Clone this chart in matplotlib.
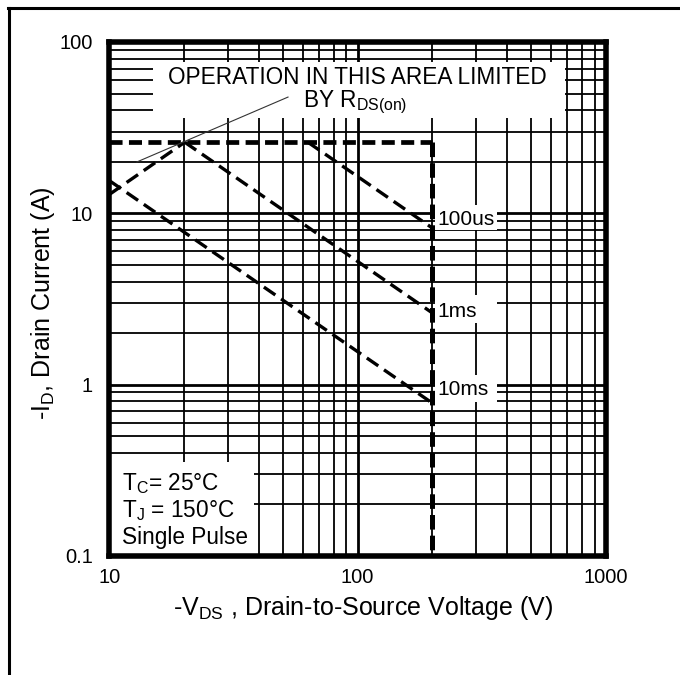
import matplotlib
matplotlib.use("Agg")
import matplotlib.pyplot as plt
from matplotlib.patches import Rectangle
from matplotlib.lines import Line2D
from matplotlib.ticker import LogLocator, NullFormatter, FixedLocator, FixedFormatter

plt.rcParams['font.family'] = ['Liberation Sans', 'DejaVu Sans']
plt.rcParams['mathtext.fontset'] = 'custom'
plt.rcParams['mathtext.rm'] = 'Liberation Sans'
plt.rcParams['mathtext.it'] = 'Liberation Sans:italic'
plt.rcParams['mathtext.bf'] = 'Liberation Sans:bold'
plt.rcParams['lines.scale_dashes'] = False

# ---- safe operating area boundaries (V, A) ----
v_rds = [10, 20.1]
i_rds = [12.9, 26]
v_limit = [10, 200]
i_limit = [26, 26]
v_bvdss = [200, 200]
i_bvdss = [26, 0.1]
v_100us = [63, 200]
i_100us = [26, 8.2]
v_1ms = [20.1, 200]
i_1ms = [26, 2.62]
v_10ms = [10, 200]
i_10ms = [15.5, 0.78]

x_ticks = [10, 100, 1000]
x_ticklabels = ["10", "100", "1000"]
y_ticks = [0.1, 1, 10, 100]
y_ticklabels = ["0.1", "1", "10", "100"]

fig = plt.figure(figsize=(6.8, 6.75), dpi=100)
ax = fig.add_axes([0.161, 0.1763, 0.730, 0.7615])
ax.set_xscale('log')
ax.set_yscale('log')
ax.set_xlim(10, 1000)
ax.set_ylim(0.1, 100)

ax.xaxis.set_major_locator(FixedLocator(x_ticks))
ax.xaxis.set_major_formatter(FixedFormatter(x_ticklabels))
ax.yaxis.set_major_locator(FixedLocator(y_ticks))
ax.yaxis.set_major_formatter(FixedFormatter(y_ticklabels))
ax.xaxis.set_minor_locator(LogLocator(base=10, subs=range(2, 10)))
ax.yaxis.set_minor_locator(LogLocator(base=10, subs=range(2, 10)))
ax.xaxis.set_minor_formatter(NullFormatter())
ax.yaxis.set_minor_formatter(NullFormatter())
ax.tick_params(which='both', length=0)
ax.tick_params(axis='x', which='major', pad=9, labelsize=14.5)
ax.tick_params(axis='y', which='major', pad=12, labelsize=14.5)

ax.set_axisbelow(True)
ax.grid(which='major', color='black', lw=2.0)
ax.grid(which='minor', color='black', lw=1.3)
for s in ax.spines.values():
    s.set_linewidth(4.0)

# white panels behind the annotations
panels = [
    ((15, 36.0), 683 - 15, 76.5 - 36.0),
    ((10, 0.1), 38.2 - 10, 0.354 - 0.1),
    ((204.7, 8.0), 364 - 204.7, 11.2 - 8.0),
    ((204.7, 2.29), 364 - 204.7, 3.34 - 2.29),
    ((204.7, 0.79), 364 - 204.7, 1.14 - 0.79),
]
for (xy, w, h) in panels:
    ax.add_patch(Rectangle(xy, w, h, facecolor='white', edgecolor='none', zorder=1))

# boundary curves
thin = dict(color='black', lw=2.4, dash_capstyle='butt', zorder=3)
ax.plot(v_rds, i_rds, dashes=(10, 5.0), **thin)
ax.plot(v_100us, i_100us, dashes=(10, 5.0), **thin)
ax.plot(v_1ms, i_1ms, dashes=(10, 5.0), **thin)
ax.plot(v_10ms, i_10ms, dashes=(10, 5.0), **thin)
ax.plot(v_limit, i_limit, color='black', lw=3.4, dashes=(9.4, 4.6),
        dash_capstyle='butt', zorder=3)
ax.plot(v_bvdss, i_bvdss, color='black', lw=3.6, dashes=(10.5, 4.4),
        dash_capstyle='butt', zorder=3)

# leader from the R_DS(on) note to its line
ax.plot([52.4, 12.9], [47.7, 19.95], color='#333333', lw=0.8, zorder=3)

txt = dict(fontsize=16.3, color='black', zorder=4)
ax.text(100, 57.2, "OPERATION IN THIS AREA LIMITED", ha='center', va='baseline', **txt)
ax.text(60.2, 41.8, r"BY R$_\mathrm{DS(on)}$", ha='left', va='baseline', **txt)

ax.text(11.23, 0.243, r"T$_\mathrm{C}$= 25°C", ha='left', va='baseline', **txt)
ax.text(11.23, 0.169, r"T$_\mathrm{J}$ = 150°C", ha='left', va='baseline', **txt)
ax.text(11.23, 0.1175, "Single Pulse", ha='left', va='baseline', **txt)

lab = dict(fontsize=15, color='black', zorder=4, ha='left', va='baseline')
ax.text(208.5, 8.55, "100us", **lab)
ax.text(208.5, 2.48, "1ms", **lab)
ax.text(208.5, 0.87, "10ms", **lab)

fig.text(363 / 680, 1 - 608 / 675, r"-V$_\mathrm{DS}$ , Drain-to-Source Voltage (V)",
         ha='center', va='center', fontsize=18)
fig.text(43 / 680, 1 - 303 / 675, r"-I$_\mathrm{D}$, Drain Current (A)",
         ha='center', va='center', rotation=90, fontsize=18)

# page frame
fig.add_artist(Line2D([9 / 680, 9 / 680], [0, 1 - 7.5 / 675],
                      transform=fig.transFigure, color='black', lw=2.2))
fig.add_artist(Line2D([8 / 680, 1], [1 - 7.5 / 675, 1 - 7.5 / 675],
                      transform=fig.transFigure, color='black', lw=2.2))

fig.savefig("out.png", dpi=100, facecolor='white')
